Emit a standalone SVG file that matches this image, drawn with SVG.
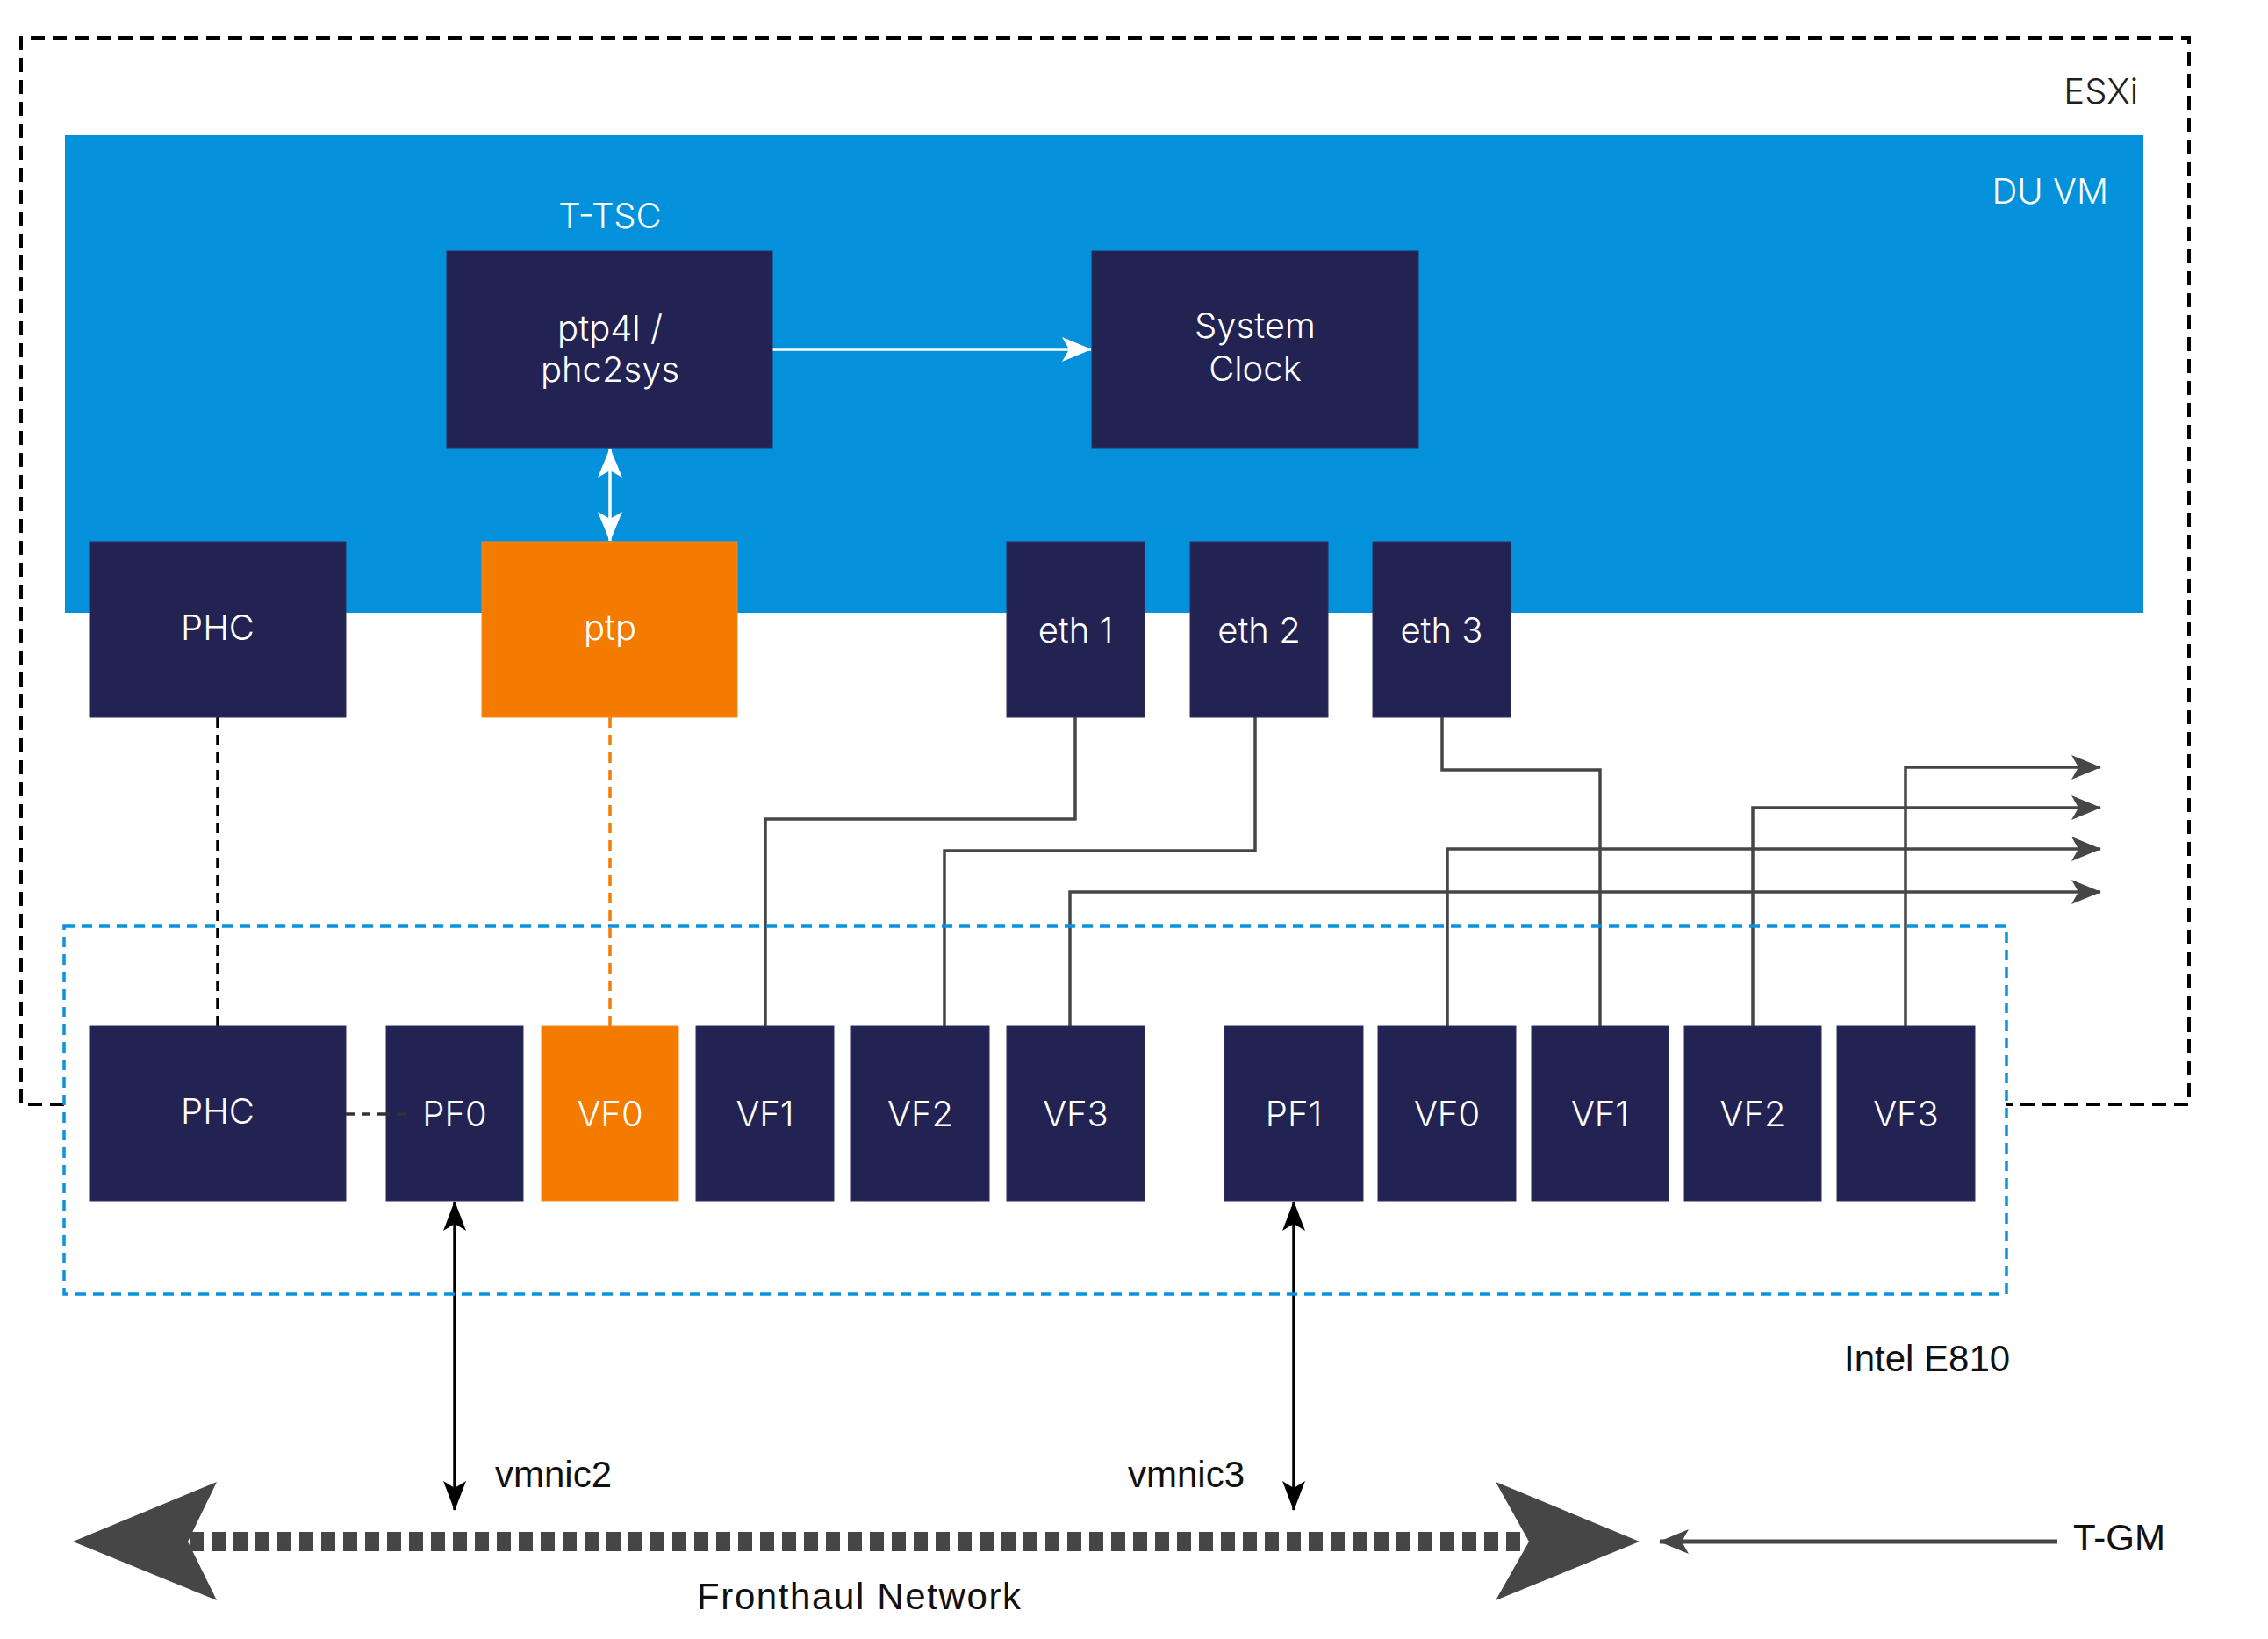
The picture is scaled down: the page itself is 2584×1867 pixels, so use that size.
<svg xmlns="http://www.w3.org/2000/svg" width="2584" height="1867" viewBox="0 0 2584 1867">
<style>
.node{fill:#222353;stroke:#2c2e5e;stroke-width:1}
.orange{fill:#F47A00;stroke:#f58a20;stroke-width:1}
.nl{font-family:"Inter","Noto Sans",sans-serif;font-weight:300;font-size:40px;fill:#ffffff;text-anchor:middle}
.bl{font-family:"Liberation Sans",Arial,sans-serif;font-size:42px;fill:#111111}
.conn{fill:none;stroke:#464646;stroke-width:3.5}
</style>
<defs>
<marker id="ag" markerUnits="userSpaceOnUse" viewBox="0 0 34 28" refX="33" refY="14" markerWidth="34" markerHeight="28" orient="auto-start-reverse"><path d="M0,0 L34,14 L0,28 L8,14 Z" fill="#464646"/></marker>
<marker id="ak" markerUnits="userSpaceOnUse" viewBox="0 0 34 28" refX="33" refY="14" markerWidth="34" markerHeight="28" orient="auto-start-reverse"><path d="M0,1 L34,14 L0,27 L8,14 Z" fill="#000000"/></marker>
<marker id="aw" markerUnits="userSpaceOnUse" viewBox="0 0 34 28" refX="33" refY="14" markerWidth="34" markerHeight="28" orient="auto-start-reverse"><path d="M0,0 L34,14 L0,28 L8,14 Z" fill="#ffffff"/></marker>
</defs>
<rect width="2584" height="1867" fill="#ffffff"/>

<g id="esxi">
<path d="M73,1258 L24,1258 L24,43 L2494,43 L2494,1258 L2286,1258" fill="none" stroke="#000" stroke-width="4" stroke-dasharray="16 9"/>
<text x="2436" y="118" font-family="Inter,'Noto Sans',sans-serif" font-weight="300" font-size="40" fill="#231F20" text-anchor="end">ESXi</text>
</g>

<g id="du-vm">
<rect x="74" y="154" width="2368" height="544" fill="#0291DA"/>
<text x="2402" y="232" font-family="Inter,'Noto Sans',sans-serif" font-weight="300" font-size="40" fill="#ffffff" text-anchor="end">DU VM</text>
<text x="695" y="260" class="nl">T-TSC</text>
</g>

<g id="connectors">
<line x1="880" y1="398" x2="1243" y2="398" stroke="#ffffff" stroke-width="3.5" marker-end="url(#aw)"/>
<line x1="695" y1="511" x2="695" y2="616" stroke="#ffffff" stroke-width="3.5" marker-start="url(#aw)" marker-end="url(#aw)"/>
<line x1="248" y1="817" x2="248" y2="1169" stroke="#000" stroke-width="3.5" stroke-dasharray="12 8"/>
<line x1="695" y1="817" x2="695" y2="1169" stroke="#F47A00" stroke-width="3.5" stroke-dasharray="12 8"/>
<line x1="394" y1="1269" x2="462" y2="1269" stroke="#333" stroke-width="3.5" stroke-dasharray="10 8"/>
<polyline class="conn" points="1225,817 1225,933 872,933 872,1169"/>
<polyline class="conn" points="1430,817 1430,969 1076,969 1076,1169"/>
<polyline class="conn" points="1643,817 1643,877 1823,877 1823,1169"/>
<polyline class="conn" points="1219,1169 1219,1016 2393,1016" marker-end="url(#ag)"/>
<polyline class="conn" points="1649,1169 1649,967 2393,967" marker-end="url(#ag)"/>
<polyline class="conn" points="1997,1169 1997,920 2393,920" marker-end="url(#ag)"/>
<polyline class="conn" points="2171,1169 2171,874 2393,874" marker-end="url(#ag)"/>
<line x1="518" y1="1369" x2="518" y2="1720" stroke="#000" stroke-width="3.5" marker-start="url(#ak)" marker-end="url(#ak)"/>
<line x1="1474" y1="1369" x2="1474" y2="1720" stroke="#000" stroke-width="3.5" marker-start="url(#ak)" marker-end="url(#ak)"/>
<line x1="2344" y1="1756" x2="1891" y2="1756" stroke="#464646" stroke-width="5" marker-end="url(#ag)"/>
</g>

<g id="intel-e810">
<rect x="73" y="1055" width="2213" height="419" fill="none" stroke="#0A93DC" stroke-width="3.5" stroke-dasharray="12 8"/>
<text x="2101" y="1562" class="bl">Intel E810</text>
</g>

<g id="ptp4l"><rect class="node" x="509" y="286" width="371" height="224"/><text class="nl" x="695" y="388">ptp4l /</text><text class="nl" x="695" y="435">phc2sys</text></g>
<g id="system-clock"><rect class="node" x="1244" y="286" width="372" height="224"/><text class="nl" x="1430" y="385">System</text><text class="nl" x="1430" y="434">Clock</text></g>
<g id="phc-vm"><rect class="node" x="102" y="617" width="292" height="200"/><text class="nl" x="248" y="729">PHC</text></g>
<g id="ptp"><rect class="orange" x="549" y="617" width="291" height="200"/><text class="nl" x="695" y="729">ptp</text></g>
<g id="eth1"><rect class="node" x="1147" y="617" width="157" height="200"/><text class="nl" x="1225.5" y="732">eth 1</text></g>
<g id="eth2"><rect class="node" x="1356" y="617" width="157" height="200"/><text class="nl" x="1434.5" y="732">eth 2</text></g>
<g id="eth3"><rect class="node" x="1564" y="617" width="157" height="200"/><text class="nl" x="1642.5" y="732">eth 3</text></g>

<g id="phc-nic"><rect class="node" x="102" y="1169" width="292" height="199"/><text class="nl" x="248" y="1280">PHC</text></g>
<g id="pf0"><rect class="node" x="440" y="1169" width="156" height="199"/><text class="nl" x="518" y="1283">PF0</text></g>
<line x1="440" y1="1269" x2="462" y2="1269" stroke="#333" stroke-width="3.5" stroke-dasharray="10 8" stroke-dashoffset="6"/>
<g id="vf0-a"><rect class="orange" x="617" y="1169" width="156" height="199"/><text class="nl" x="695" y="1283">VF0</text></g>
<g id="vf1-a"><rect class="node" x="793" y="1169" width="157" height="199"/><text class="nl" x="871.5" y="1283">VF1</text></g>
<g id="vf2-a"><rect class="node" x="970" y="1169" width="157" height="199"/><text class="nl" x="1048.5" y="1283">VF2</text></g>
<g id="vf3-a"><rect class="node" x="1147" y="1169" width="157" height="199"/><text class="nl" x="1225.5" y="1283">VF3</text></g>
<g id="pf1"><rect class="node" x="1395" y="1169" width="158" height="199"/><text class="nl" x="1474" y="1283">PF1</text></g>
<g id="vf0-b"><rect class="node" x="1570" y="1169" width="157" height="199"/><text class="nl" x="1648.5" y="1283">VF0</text></g>
<g id="vf1-b"><rect class="node" x="1745" y="1169" width="156" height="199"/><text class="nl" x="1823" y="1283">VF1</text></g>
<g id="vf2-b"><rect class="node" x="1919" y="1169" width="156" height="199"/><text class="nl" x="1997" y="1283">VF2</text></g>
<g id="vf3-b"><rect class="node" x="2093" y="1169" width="157" height="199"/><text class="nl" x="2171.5" y="1283">VF3</text></g>

<g id="fronthaul">
<line x1="216" y1="1756" x2="1736" y2="1756" stroke="#464646" stroke-width="22" stroke-dasharray="16 9"/>
<polygon points="83,1756 247,1688 214,1756 247,1823" fill="#464646"/>
<polygon points="1868,1756 1704,1688 1742,1756 1704,1823" fill="#464646"/>
<text x="794" y="1833" class="bl" textLength="369" lengthAdjust="spacing">Fronthaul Network</text>
</g>
<text x="564" y="1694" class="bl">vmnic2</text>
<text x="1285" y="1694" class="bl">vmnic3</text>
<g id="t-gm"><text x="2362" y="1766" class="bl">T-GM</text></g>
</svg>
